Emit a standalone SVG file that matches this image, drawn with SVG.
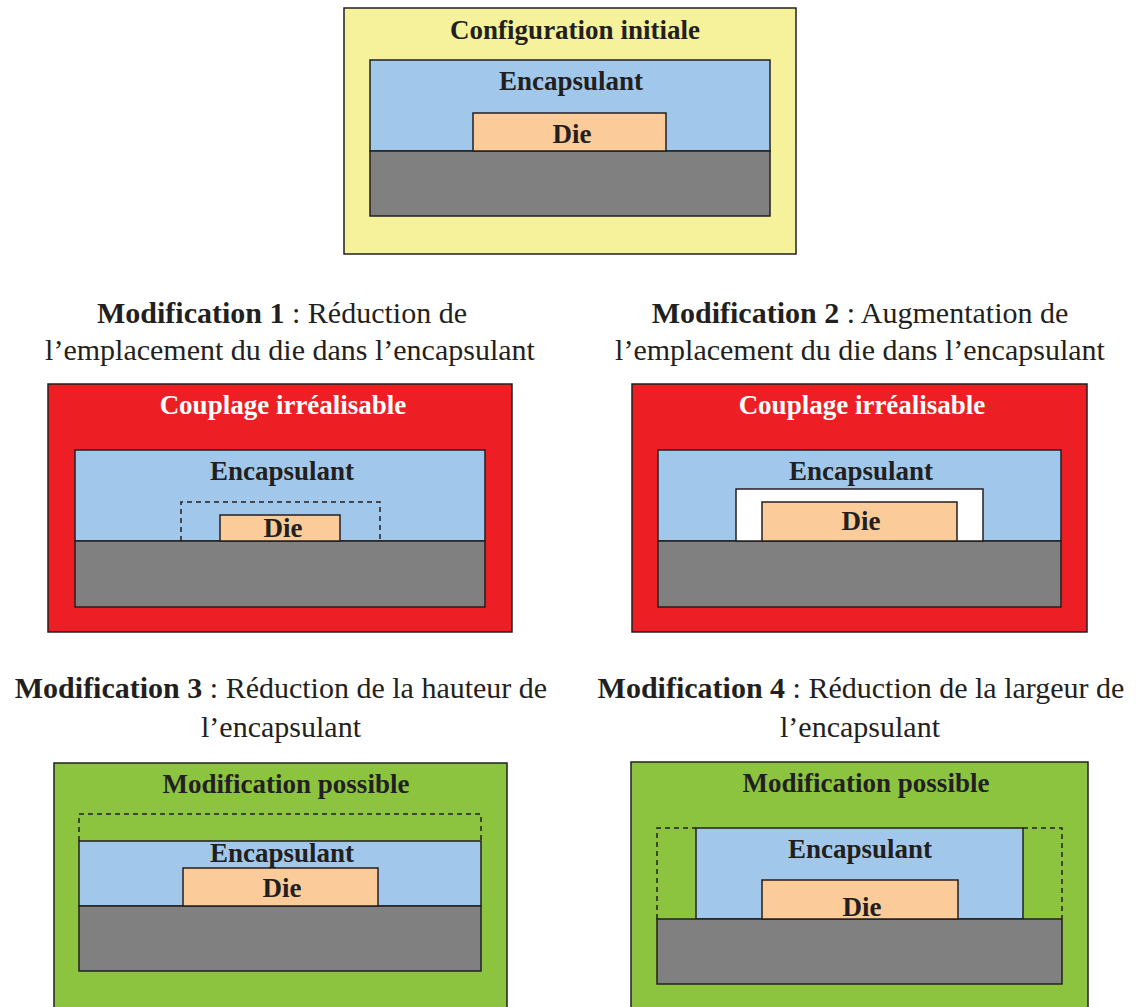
<svg xmlns="http://www.w3.org/2000/svg" width="1136" height="1007" viewBox="0 0 1136 1007">
<style>
.frame{stroke:#231f20;stroke-width:1.5}
.enc{fill:#a1c8ea;stroke:#231f20;stroke-width:1.5}
.sub{fill:#808080;stroke:#231f20;stroke-width:1.5}
.die{fill:#fbcb99;stroke:#231f20;stroke-width:1.5}
.dash{fill:none;stroke:#231f20;stroke-width:1.5;stroke-dasharray:5 4}
.t{font-family:"Liberation Serif","Times New Roman",serif;font-weight:bold;font-size:27px;fill:#231f20;text-anchor:middle}
.tw{fill:#ffffff}
.h{font-family:"Liberation Serif","Times New Roman",serif;font-size:30px;fill:#231f20;text-anchor:middle}
.b{font-weight:bold}
</style>
<rect width="1136" height="1007" fill="#ffffff"/>

<g id="initial">
<rect class="frame" x="344" y="8" width="452" height="246" fill="#f6f29b"/>
<text class="t" x="575" y="39">Configuration initiale</text>
<rect class="enc" x="370" y="60" width="400" height="91"/>
<rect class="sub" x="370" y="151" width="400" height="65"/>
<rect class="die" x="473" y="113" width="193" height="38"/>
<text class="t" x="571" y="90">Encapsulant</text>
<text class="t" x="572" y="143">Die</text>
</g>

<g id="mod1">
<text class="h" x="282" y="323"><tspan class="b">Modification 1</tspan> : Réduction de</text>
<text class="h" x="290" y="360">l’emplacement du die dans l’encapsulant</text>
<rect class="frame" x="48" y="384" width="464" height="248" fill="#ed1f24"/>
<text class="t tw" x="283" y="414">Couplage irréalisable</text>
<rect class="enc" x="75" y="450" width="410" height="91"/>
<rect class="sub" x="75" y="541" width="410" height="66"/>
<path class="dash" d="M181,541 V502 H380 V541"/>
<rect class="die" x="220" y="515" width="120" height="26"/>
<text class="t" x="282" y="480">Encapsulant</text>
<text class="t" x="283" y="537">Die</text>
</g>

<g id="mod2">
<text class="h" x="860" y="323"><tspan class="b">Modification 2</tspan> : Augmentation de</text>
<text class="h" x="860" y="360">l’emplacement du die dans l’encapsulant</text>
<rect class="frame" x="632" y="384" width="455" height="248" fill="#ed1f24"/>
<text class="t tw" x="862" y="414">Couplage irréalisable</text>
<rect class="enc" x="658" y="450" width="403" height="91"/>
<rect class="sub" x="658" y="541" width="403" height="66"/>
<rect x="736" y="489" width="247" height="52" fill="#ffffff" stroke="#231f20" stroke-width="1.5"/>
<rect class="die" x="762" y="502" width="195" height="39"/>
<text class="t" x="861" y="480">Encapsulant</text>
<text class="t" x="861" y="530">Die</text>
</g>

<g id="mod3">
<text class="h" x="281" y="698"><tspan class="b">Modification 3</tspan> : Réduction de la hauteur de</text>
<text class="h" x="281" y="737">l’encapsulant</text>
<rect class="frame" x="54" y="763" width="453" height="260" fill="#8dc43f"/>
<text class="t" x="286" y="793">Modification possible</text>
<path class="dash" d="M79,841 V814 H481 V841"/>
<rect class="enc" x="79" y="841" width="402" height="65"/>
<rect class="sub" x="79" y="906" width="402" height="65"/>
<rect class="die" x="183" y="868" width="195" height="38"/>
<text class="t" x="282" y="862">Encapsulant</text>
<text class="t" x="282" y="897">Die</text>
</g>

<g id="mod4">
<text class="h" x="861" y="698"><tspan class="b">Modification 4</tspan> : Réduction de la largeur de</text>
<text class="h" x="860" y="737">l’encapsulant</text>
<rect class="frame" x="631" y="762" width="457" height="260" fill="#8dc43f"/>
<text class="t" x="866" y="792">Modification possible</text>
<path class="dash" d="M657,919 V828 H696 M1023,828 H1062 V919"/>
<rect class="enc" x="696" y="828" width="327" height="91"/>
<rect class="sub" x="657" y="919" width="405" height="65"/>
<rect class="die" x="762" y="880" width="196" height="39"/>
<text class="t" x="860" y="858">Encapsulant</text>
<text class="t" x="862" y="916">Die</text>
</g>

<g id="connectors"/>
</svg>
